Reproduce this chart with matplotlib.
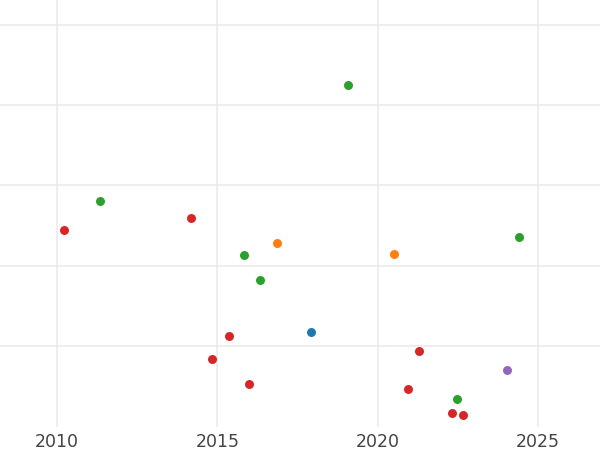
# Scatter of points by year, coloured by group

import matplotlib.pyplot as plt

# data
green_x = [2011.34, 2015.84, 2016.34, 2019.07, 2022.47, 2024.41]
green_y = [28.1, 21.3, 18.2, 42.5, 3.4, 23.6]

red_x = [2010.22, 2014.17, 2014.84, 2015.35, 2015.97, 2020.95, 2021.28, 2022.33, 2022.66]
red_y = [24.5, 25.9, 8.4, 11.2, 5.3, 4.7, 9.4, 1.66, 1.37]

orange_x = [2016.87, 2020.52]
orange_y = [22.8, 21.4]

blue_x = [2017.91]
blue_y = [11.8]

purple_x = [2024.04]
purple_y = [7.0]

x_ticks = [2010, 2015, 2020, 2025]
y_ticks = [10, 20, 30, 40, 50]

fig = plt.figure(figsize=(6, 4.5), dpi=100)
ax = fig.add_axes([0, 1 - 427 / 450, 1, 427 / 450])

groups = [
    (blue_x, blue_y, '#1f77b4'),
    (orange_x, orange_y, '#ff7f0e'),
    (green_x, green_y, '#2ca02c'),
    (red_x, red_y, '#d62728'),
    (purple_x, purple_y, '#9467bd'),
]
for xs, ys, c in groups:
    ax.scatter(xs, ys, s=42, color=c, linewidths=0, zorder=3)

ax.set_xlim(2008.22, 2026.93)
ax.set_ylim(-0.09, 53.1)
ax.set_xticks(x_ticks)
ax.set_yticks(y_ticks)
ax.set_yticklabels([])
ax.grid(True, color='#ebebeb', linewidth=1.2)
ax.set_axisbelow(True)
for s in ax.spines.values():
    s.set_visible(False)
ax.tick_params(length=0, pad=4, labelsize=12.5, labelcolor='#444444')

fig.savefig('out.png')
